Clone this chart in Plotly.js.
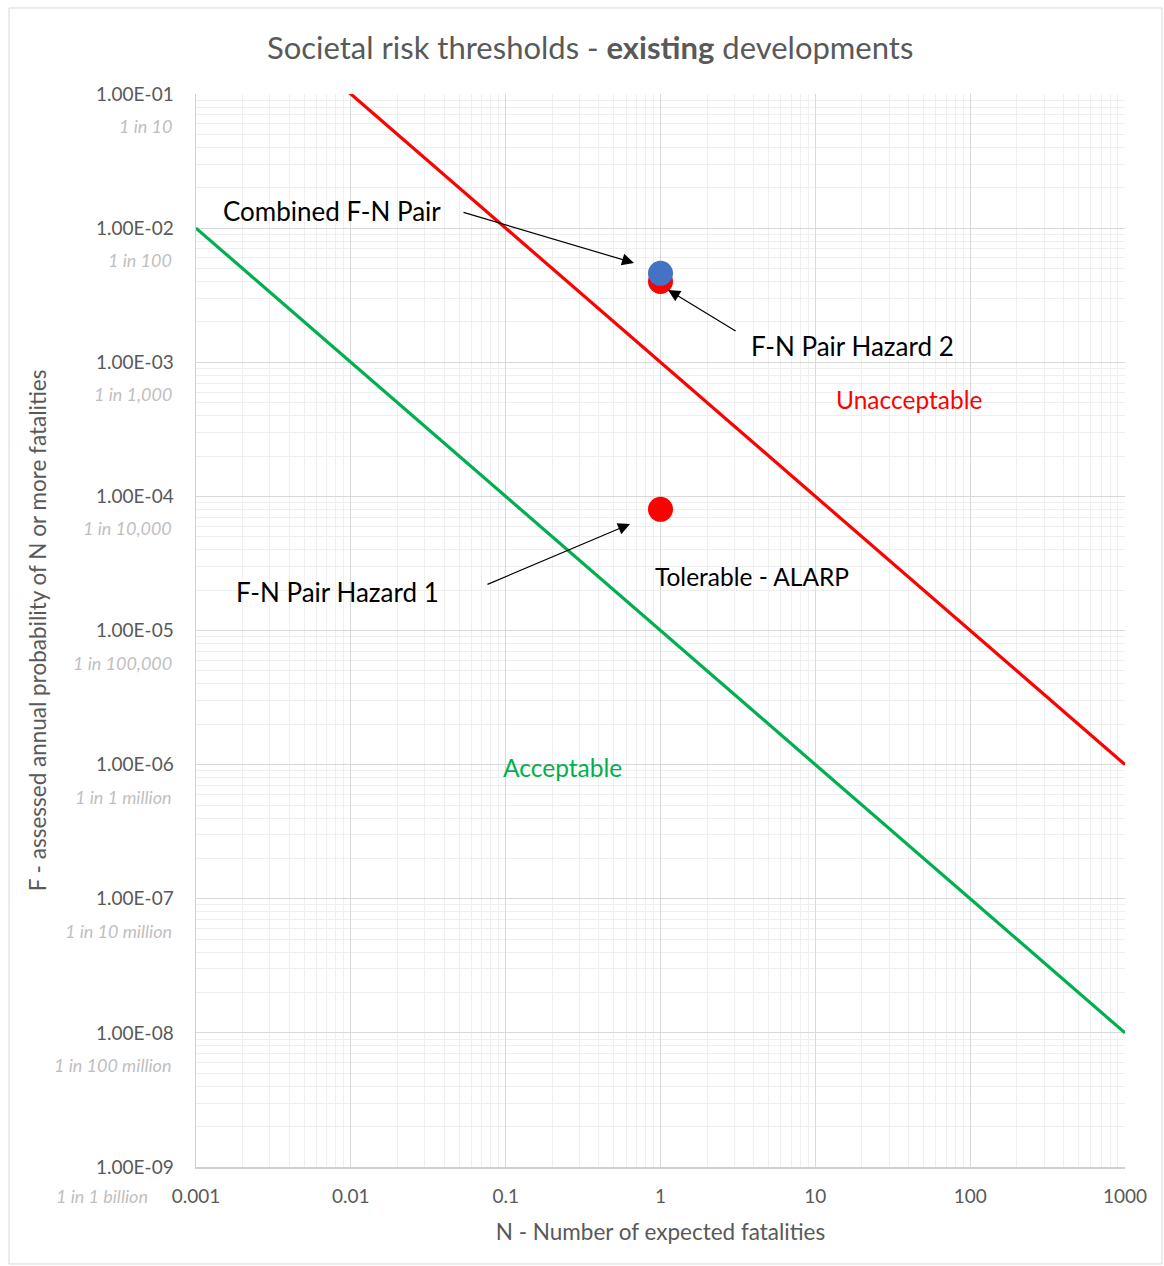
<!DOCTYPE html>
<html>
<head>
<meta charset="utf-8">
<script src="https://cdn.plot.ly/plotly-3.0.1.min.js"></script>
<style>
html,body{margin:0;padding:0;background:#fff;}
#chart{width:1164px;height:1266px;}
</style>
</head>
<body>
<div id="chart"></div>
<script>
// Threshold lines (N, F)
const thresholdN = [0.001, 1000];
const unacceptableF = [1, 1e-6];      // F = 1e-3 / N
const acceptableF = [1e-2, 1e-8];     // F = 1e-5 / N

// F-N pairs
const hazard1N = [1];
const hazard1F = [8.0e-5];
const hazard2N = [1];
const hazard2F = [4.0e-3];
const combinedN = [1];
const combinedF = [4.6e-3];

// Tick labels
const xTickVals = [0.001, 0.01, 0.1, 1, 10, 100, 1000];
const xTickText = ['0.001', '0.01', '0.1', '1', '10', '100', '1000'];
const yTickVals = [1e-9, 1e-8, 1e-7, 1e-6, 1e-5, 1e-4, 1e-3, 1e-2, 1e-1];
const yTickText = ['1.00E-09', '1.00E-08', '1.00E-07', '1.00E-06', '1.00E-05', '1.00E-04', '1.00E-03', '1.00E-02', '1.00E-01'];
const yOddsText = ['1 in 1 billion', '1 in 100 million', '1 in 10 million', '1 in 1 million', '1 in 100,000', '1 in 10,000', '1 in 1,000', '1 in 100', '1 in 10'];

const FONT = 'Lato, "Open Sans", sans-serif';
const GREY = '#595959';

const traces = [
  {x: thresholdN, y: unacceptableF, mode: 'lines', line: {color: '#ff0000', width: 3.2}, name: 'Unacceptable', hoverinfo: 'skip'},
  {x: thresholdN, y: acceptableF, mode: 'lines', line: {color: '#00b050', width: 3.2}, name: 'Acceptable', hoverinfo: 'skip'},
  {x: hazard1N, y: hazard1F, mode: 'markers', marker: {color: '#ff0000', size: 25}, name: 'Hazard 1'},
  {x: hazard2N, y: hazard2F, mode: 'markers', marker: {color: '#ff0000', size: 25}, name: 'Hazard 2'},
  {x: combinedN, y: combinedF, mode: 'markers', marker: {color: '#4472c4', size: 25}, name: 'Combined'}
];

const annotations = [];
// odds labels below y tick labels
yTickVals.forEach((v, i) => {
  const last = i === 0;
  annotations.push({
    xref: 'paper', yref: 'y', x: last ? -0.0495 : -0.0237, y: Math.log10(v),
    xanchor: 'right', yanchor: 'middle', yshift: last ? -29 : -32,
    text: '<i>' + yOddsText[i] + '</i>', showarrow: false,
    font: {family: FONT, size: 18, color: '#bfbfbf'}
  });
});

const labelFont = {family: FONT, size: 26, color: '#000000'};
// region and pair labels
annotations.push(
  {xref: 'x', yref: 'y', x: -2.122, y: -1.872, text: 'Combined F-N Pair', showarrow: false, font: labelFont},
  {xref: 'x', yref: 'y', x: 1.237, y: -2.879, text: 'F-N Pair Hazard 2', showarrow: false, font: labelFont},
  {xref: 'x', yref: 'y', x: -2.083, y: -4.713, text: 'F-N Pair Hazard 1', showarrow: false, font: labelFont},
  {xref: 'x', yref: 'y', x: 1.605, y: -3.281, text: 'Unacceptable', showarrow: false, font: {family: FONT, size: 24.5, color: '#ff0000'}},
  {xref: 'x', yref: 'y', x: 0.591, y: -4.594, text: 'Tolerable - ALARP', showarrow: false, font: {family: FONT, size: 24.5, color: '#000000'}},
  {xref: 'x', yref: 'y', x: -0.636, y: -6.025, text: 'Acceptable', showarrow: false, font: {family: FONT, size: 24.5, color: '#00b050'}}
);
// arrows
const arrowStyle = {showarrow: true, arrowhead: 2, arrowsize: 2, arrowwidth: 1.2, arrowcolor: '#000000', standoff: 0, text: ''};
annotations.push(
  Object.assign({xref: 'x', yref: 'y', x: -0.171, y: -2.260, ax: -172, ay: -51}, arrowStyle),
  Object.assign({xref: 'x', yref: 'y', x: 0.049, y: -2.461, ax: 69, ay: 42}, arrowStyle),
  Object.assign({xref: 'x', yref: 'y', x: -0.197, y: -4.206, ax: -144, ay: 61}, arrowStyle)
);

const layout = {
  width: 1164, height: 1266,
  margin: {l: 196, r: 39, t: 94, b: 99},
  paper_bgcolor: '#ffffff', plot_bgcolor: '#ffffff',
  showlegend: false,
  font: {family: FONT, color: GREY},
  title: {
    text: 'Societal risk thresholds - <b>existing</b> developments',
    font: {family: FONT, size: 31, color: GREY},
    x: 0.507, xanchor: 'center', y: 0.962, yanchor: 'middle'
  },
  xaxis: {
    type: 'log', range: [-3, 3],
    tickvals: xTickVals, ticktext: xTickText,
    tickfont: {family: FONT, size: 19, color: GREY},
    ticks: '', ticklabelstandoff: 12,
    showgrid: true, gridcolor: '#d9d9d9', gridwidth: 1,
    minor: {dtick: 'D1', showgrid: true, gridcolor: '#efefef', gridwidth: 1, ticks: ''},
    showline: true, linecolor: '#d0d0d0', linewidth: 1.5, mirror: false,
    zeroline: false,
    title: {text: 'N - Number of expected fatalities', font: {family: FONT, size: 22.5, color: GREY}, standoff: 18}
  },
  yaxis: {
    type: 'log', range: [-9, -1],
    tickvals: yTickVals, ticktext: yTickText,
    tickfont: {family: FONT, size: 19, color: GREY},
    ticks: '', ticklabelstandoff: 17,
    showgrid: true, gridcolor: '#d9d9d9', gridwidth: 1,
    minor: {dtick: 'D1', showgrid: true, gridcolor: '#efefef', gridwidth: 1, ticks: ''},
    showline: true, linecolor: '#d0d0d0', linewidth: 1.5, mirror: false,
    zeroline: false,
    title: {text: 'F - assessed annual probability of N or more fatalities', font: {family: FONT, size: 22.5, color: GREY}, standoff: 43}
  },
  annotations: annotations,
  shapes: [
    {type: 'rect', xref: 'paper', yref: 'paper', x0: -0.2013, x1: 1.0398, y0: -0.0904, y1: 1.0802,
     line: {color: '#d9d9d9', width: 1}, fillcolor: 'rgba(0,0,0,0)', layer: 'below'}
  ]
};

Plotly.newPlot('chart', traces, layout, {displayModeBar: false, staticPlot: true});
</script>
</body>
</html>
